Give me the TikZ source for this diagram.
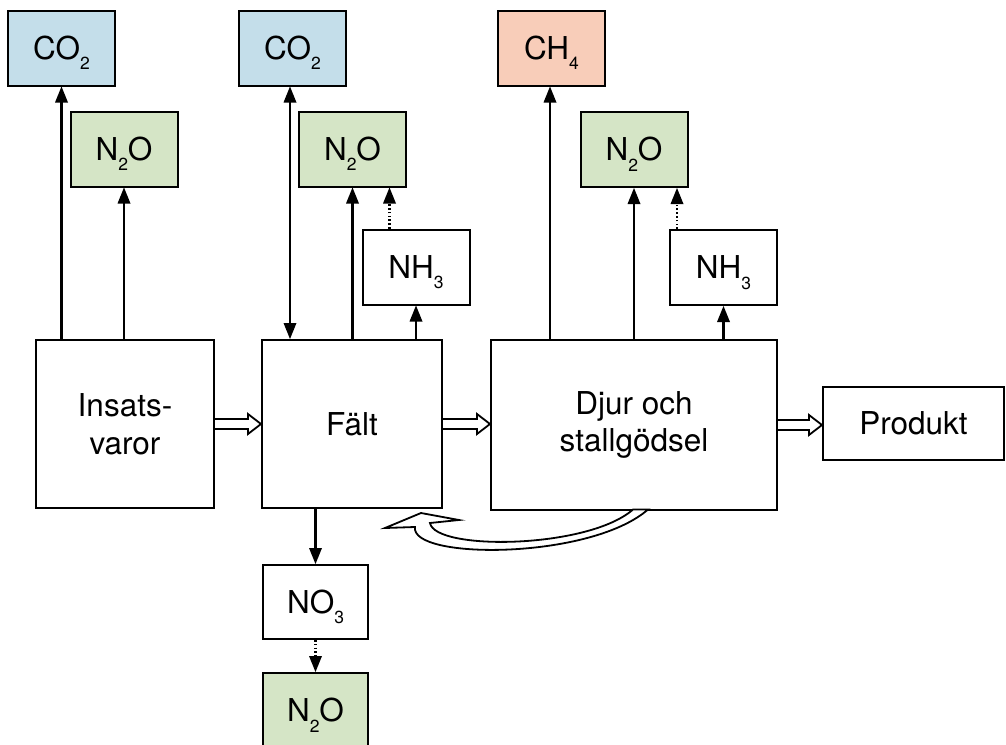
\documentclass[tikz,border=0pt]{standalone}
\usepackage{fontspec}
\setmainfont{TeX Gyre Heros}
\usetikzlibrary{calc}
\definecolor{co2col}{HTML}{C4DEEA}
\definecolor{n2ocol}{HTML}{D5E5C6}
\definecolor{ch4col}{HTML}{F8CDB9}
\newcommand{\chs}[1]{\raisebox{-0.32em}[0pt][0pt]{\fontsize{17.5}{17.5}\selectfont #1}}
% filled arrow heads: tip at the given point, pointing up / down in the picture
\newcommand{\hup}[1]{\fill (#1) -- ++(-6.5,16) -- ++(13,0) -- cycle;}
\newcommand{\hdown}[1]{\fill (#1) -- ++(-6.5,-16) -- ++(13,0) -- cycle;}
\begin{document}
\begin{tikzpicture}[x=1pt,y=-1pt,
  box/.style={draw, line width=2pt, inner sep=0pt, align=center,
    font=\fontsize{31.5}{37.5}\selectfont},
  gas/.style={box, minimum width=107pt, minimum height=75pt},
  conn/.style={line width=2.4pt, shorten >=12pt},
  both/.style={line width=2.4pt, shorten >=12pt, shorten <=12pt},
  dotconn/.style={line width=2.2pt, dash pattern=on 1.6pt off 2.2pt, shorten >=14pt},
  fat/.style={draw, line width=1.8pt, fill=white, line join=miter}]
\useasboundingbox (0,0) rectangle (1006,744);
\clip (0,0) rectangle (1006,744);
\fill[white] (0,0) rectangle (1006,744);

% main boxes
\node[box, minimum width=178pt, minimum height=168pt] (insats) at (125,424) {Insats-\\varor};
\node[box, minimum width=180pt, minimum height=168pt] (falt) at (352,424) {Fält};
\node[box, minimum width=286pt, minimum height=170pt] (djur) at (634,425) {Djur och\\stallgödsel};
\node[box, minimum width=181pt, minimum height=73pt] (produkt) at (913.5,423.5) {Produkt};

% gas boxes
\node[gas, fill=co2col] (co2a) at (61.5,48) {CO\chs{2}};
\node[gas, fill=n2ocol] (n2oa) at (124,149) {N\chs{2}O};
\node[gas, fill=co2col] (co2b) at (292.5,48) {CO\chs{2}};
\node[gas, fill=n2ocol] (n2ob) at (352.5,149) {N\chs{2}O};
\node[gas] (nh3b) at (416,267) {NH\chs{3}};
\node[gas, fill=ch4col] (ch4) at (551.5,48) {CH\chs{4}};
\node[gas, fill=n2ocol] (n2oc) at (634,149.5) {N\chs{2}O};
\node[gas] (nh3c) at (723.5,267.5) {NH\chs{3}};
\node[gas, minimum width=105pt, minimum height=74pt] (no3) at (315.5,602) {NO\chs{3}};
\node[gas, minimum width=105pt, fill=n2ocol] (n2od) at (315.5,710.5) {N\chs{2}O};

% coordinates of arrow ends
\coordinate (a1) at (co2a.south);
\coordinate (a2) at (n2oa.south);
\coordinate (b1) at ([xshift=-2.5pt]co2b.south);
\coordinate (b1e) at (b1 |- falt.north);
\coordinate (b2) at (n2ob.south);
\coordinate (b3) at (nh3b.south);
\coordinate (b4s) at ([xshift=28pt]nh3b.north west);
\coordinate (b4) at (b4s |- n2ob.south);
\coordinate (c1) at ([xshift=-1.5pt]ch4.south);
\coordinate (c2) at (n2oc.south);
\coordinate (c3) at (nh3c.south);
\coordinate (c4s) at ([xshift=8pt]nh3c.north west);
\coordinate (c4) at (c4s |- n2oc.south);
\coordinate (d1) at (no3.north);
\coordinate (d2) at (n2od.north);

% connectors
\draw[conn] (insats.north -| a1) -- (a1); \hup{a1}
\draw[conn] (insats.north -| a2) -- (a2); \hup{a2}
\draw[both] (b1) -- (b1e); \hup{b1} \hdown{b1e}
\draw[conn] (falt.north -| b2) -- (b2); \hup{b2}
\draw[conn] (falt.north -| b3) -- (b3); \hup{b3}
\draw[dotconn] (b4s) -- (b4); \hup{b4}
\draw[conn] (djur.north -| c1) -- (c1); \hup{c1}
\draw[conn] (djur.north -| c2) -- (c2); \hup{c2}
\draw[conn] (djur.north -| c3) -- (c3); \hup{c3}
\draw[dotconn] (c4s) -- (c4); \hup{c4}
\draw[conn] (falt.south -| d1) -- (d1); \hdown{d1}
\draw[dotconn] (no3.south) -- (d2); \hdown{d2}

% hollow flow arrows
\draw[fat] ($(insats.east)+(0,-5)$) -- ($(falt.west)+(-13,-5)$) -- ($(falt.west)+(-13,-10)$)
  -- (falt.west) -- ($(falt.west)+(-13,10)$) -- ($(falt.west)+(-13,5)$) -- ($(insats.east)+(0,5)$);
\coordinate (dj) at (djur.west |- falt.east);
\draw[fat] ($(falt.east)+(0,-5)$) -- ($(dj)+(-13,-5)$) -- ($(dj)+(-13,-10)$)
  -- (dj) -- ($(dj)+(-13,10)$) -- ($(dj)+(-13,5)$) -- ($(falt.east)+(0,5)$);
\coordinate (pr) at (produkt.west |- djur.east);
\draw[fat] ($(djur.east)+(0,-5)$) -- ($(pr)+(-13,-5)$) -- ($(pr)+(-13,-10)$)
  -- (pr) -- ($(pr)+(-13,10)$) -- ($(pr)+(-13,5)$) -- ($(djur.east)+(0,5)$);

% curved return arrow (manure back to field)
\draw[fat] (385,528) -- (421,513) -- (459,520) -- (430,523)
  .. controls (435,551) and (588,549) .. (633,509.5)
  -- (648,509.5)
  .. controls (590,560) and (410,560) .. (415,527) -- cycle;
\end{tikzpicture}
\end{document}
